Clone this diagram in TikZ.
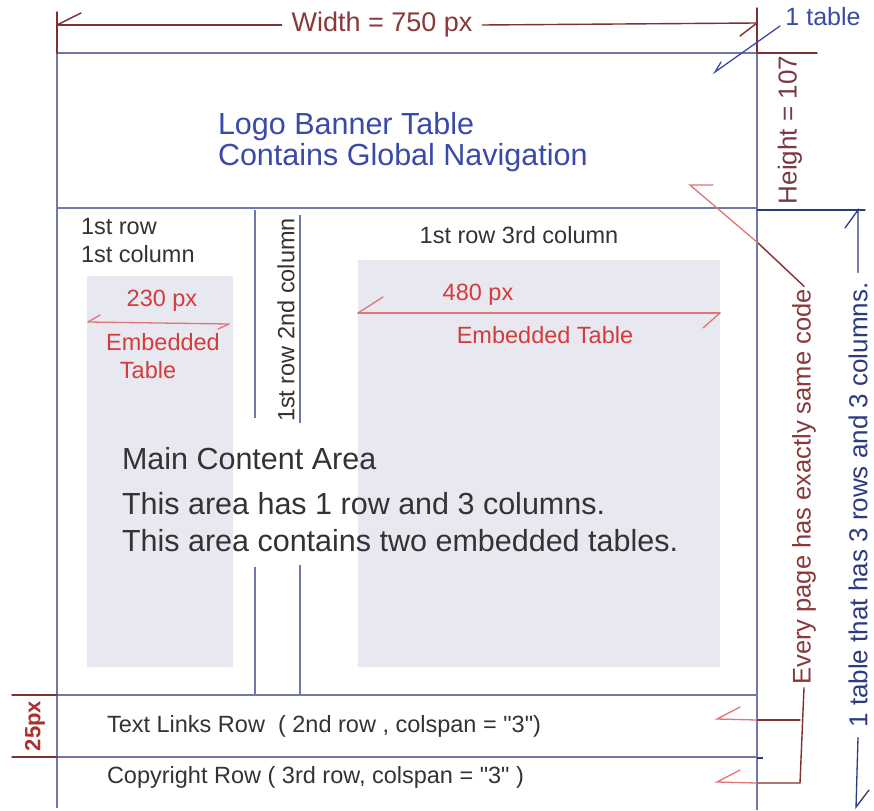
\documentclass[tikz,border=0pt]{standalone}
\usepackage{fontspec}
\setmainfont{Liberation Sans}[Ligatures=TeXOff]
\usetikzlibrary{arrows.meta}
\definecolor{brn}{HTML}{7E2F2F}
\definecolor{brntxt}{HTML}{8A3838}
\definecolor{tbl}{HTML}{7078A8}
\definecolor{blu}{HTML}{3A4AA8}
\definecolor{dblu}{HTML}{2E3A80}
\definecolor{redtxt}{HTML}{D43C3C}
\definecolor{pink}{HTML}{E07575}
\definecolor{boxfill}{HTML}{E8E8F0}
\definecolor{dark}{HTML}{333333}
\newcommand{\fs}[1]{\fontsize{#1}{#1}\selectfont}
\tikzset{
  tblline/.style={draw=tbl, line width=1.2pt},
  dimline/.style={draw=brn, line width=1.4pt, line cap=round},
  pinkline/.style={draw=pink, line width=1.3pt, line cap=round},
  bluline/.style={draw=dblu, line width=1.3pt, line cap=round},
  lbl/.style={inner sep=0pt, outer sep=2pt},
  ebox/.style={fill=boxfill, draw=none}
}
\begin{document}
\begin{tikzpicture}[x=1pt, y=-1pt]
\useasboundingbox (0,0) rectangle (874,810);
\fill[white] (0,0) rectangle (874,810);

% embedded tables (grey boxes)
\path[ebox] (87,276) rectangle (233,667);
\path[ebox] (358,260) rectangle (720,667);

% named points of the table grid
\coordinate (tl) at (57,53);   \coordinate (tr) at (757,53);
\coordinate (bl) at (57,208);  \coordinate (br) at (757,208);
\coordinate (r2l) at (57,695); \coordinate (r2r) at (757,695);
\coordinate (r3l) at (57,757); \coordinate (r3r) at (757,757);
\coordinate (lb) at (57,808);  \coordinate (rb) at (757,810);
\coordinate (lt) at (57,12);   \coordinate (rt) at (757,8);
\coordinate (c1a) at (255,210); \coordinate (c1b) at (255,418);
\coordinate (c1c) at (255,567); \coordinate (c1d) at (255,695);
\coordinate (c2a) at (300,215); \coordinate (c2b) at (300,423);
\coordinate (c2c) at (300,565); \coordinate (c2d) at (300,695);

% table lines
\draw[tblline] (tl) -- (lb);
\draw[tblline] (tr) -- (rb);
\draw[tblline] (tl) -- (tr);
\draw[tblline] (bl) -- (br);
\draw[tblline] (r2l) -- (r2r);
\draw[tblline] (r3l) -- (r3r);
\draw[tblline] (c1a) -- (c1b);
\draw[tblline] (c1c) -- (c1d);
\draw[tblline] (c2a) -- (c2b);
\draw[tblline] (c2c) -- (c2d);
\coordinate (tick0) at (757,758); \coordinate (tick) at (763,758);
\draw[draw=dblu, line width=1.2pt] (tick0) -- (tick);

% width dimension
\draw[dimline] (lt) -- (tl);
\draw[dimline] (rt) -- (tr);
\node[lbl, outer sep=10pt, text=brntxt, font=\fs{27}] (wtxt) at (382,25) {Width = 750 px};
\coordinate (wl) at (57,25); \coordinate (wr) at (757,23);
\draw[dimline] (wl) -- (wtxt.west);
\draw[dimline] (wtxt.east) -- (wr);
\draw[dimline] (wl) -- ++(24,-12);
\draw[dimline] (wr) -- ++(-17,13);

% 1 table
\node[lbl, text=blu, font=\fs{25}] (onet) at (823,17) {1 table};
\coordinate (onea) at (780,26); \coordinate (oneb) at (715,72);
\draw[draw=blu, line width=1.3pt, line cap=round] (onea) -- (oneb) -- ++(6,-10);

% height dimension
\coordinate (hx) at (817,53);
\coordinate (br2) at (757,210); \coordinate (bx) at (865,210);
\draw[dimline] (tr) -- (hx);
\draw[bluline] (br2) -- (bx);
\node[lbl, text=brntxt!80!dblu, font=\fs{26}, rotate=90] (htxt) at (790,130) {Height = 107};

% logo banner
\node[lbl, anchor=west, align=left, text=blu, font=\fontsize{30.5}{31.5}\selectfont] (logo) at (216,142)
  {Logo Banner Table\\Contains Global Navigation};

% first row labels
\node[lbl, anchor=west, align=left, text=dark, font=\fontsize{23.5}{28}\selectfont] (c1txt) at (79,241)
  {1st row\\1st column};
\node[lbl, text=dark, font=\fs{23.5}, rotate=90] (c2txt) at (286,320) {1st row 2nd column};
\node[lbl, text=dark, font=\fs{23.5}] (c3txt) at (519,235) {1st row 3rd column};

% embedded table 1
\node[lbl, text=redtxt, font=\fs{23.5}] (w230) at (162,301) {230 px};
\coordinate (a230l) at (88,322); \coordinate (a230r) at (229,324);
\draw[pinkline] (a230l) -- (a230r);
\draw[pinkline] (a230l) -- ++(12,-7);
\draw[pinkline] (a230r) -- ++(-11,5);
\node[lbl, text=redtxt, font=\fs{23.5}] (emb1) at (163,342) {Embedded};
\node[lbl, text=redtxt, font=\fs{23.5}] (tab1) at (148,370) {Table};

% embedded table 2
\node[lbl, text=redtxt, font=\fs{23.5}] (w480) at (478,295) {480 px};
\coordinate (a480l) at (358,313); \coordinate (a480r) at (720,313);
\draw[pinkline] (a480l) -- (a480r);
\draw[pinkline] (a480l) -- ++(25,-16);
\draw[pinkline] (a480r) -- ++(-17,15);
\node[lbl, text=redtxt, font=\fs{23.5}] (emb2) at (545,335) {Embedded Table};

% main content text
\node[lbl, anchor=base west, text=dark, font=\fs{30.5}] (mca) at (120,469) {Main Content Area};
\node[lbl, anchor=base west, text=dark, font=\fs{30.5}] (mcb) at (120,514) {This area has 1 row and 3 columns.};
\node[lbl, anchor=base west, text=dark, font=\fs{30.5}] (mcc) at (120,551) {This area contains two embedded tables.};

% lower rows
\node[lbl, anchor=west, text=dark, font=\fs{23.5}] (links) at (105,726) {Text Links Row\ \ ( 2nd row , colspan = "3")};
\node[lbl, anchor=west, text=dark, font=\fs{23.5}] (copy) at (105,777) {Copyright Row ( 3rd row, colspan = "3" )};

% 25px dimension
\coordinate (d1) at (12,695); \coordinate (d2) at (12,757);
\draw[dimline] (d1) -- (r2l);
\draw[dimline] (d2) -- (r3l);
\node[lbl, text=redtxt!80!black, font=\bfseries\fs{22}, rotate=90] (p25) at (35,726) {25px};

% every page has exactly same code
\node[lbl, outer sep=3pt, text=brntxt, font=\fs{25.5}, rotate=90] (every) at (804,487) {Every page has exactly same code};
\coordinate (bk1) at (800,720); \coordinate (bk2) at (800,783);
\coordinate (e1) at (757,720); \coordinate (e2) at (757,783);
\draw[dimline] (every.west) -- (bk2) -- (e2);
\draw[dimline] (bk1) -- (e1);
\coordinate (p1) at (717,719); \coordinate (p2) at (717,782);
\draw[pinkline] (e1) -- (p1) -- ++(23,-12);
\draw[pinkline] (e2) -- (p2) -- ++(23,-12);
\coordinate (dg1) at (758,243); \coordinate (dg2) at (690,185);
\draw[dimline] (every.east) -- (dg1);
\draw[pinkline] (dg1) -- (dg2) -- ++(23,0);

% 1 table that has 3 rows and 3 columns
\node[lbl, outer sep=10pt, text=dblu, font=\fs{26}, rotate=90] (onetab) at (858,505) {1 table that has 3 rows and 3 columns.};
\coordinate (ot1) at (858,210); \coordinate (ot2) at (856,807);
\draw[bluline] (onetab.east) -- (ot1) -- ++(-13,18);
\draw[bluline] (onetab.west) -- (ot2) -- ++(13,-17);
\end{tikzpicture}
\end{document}
